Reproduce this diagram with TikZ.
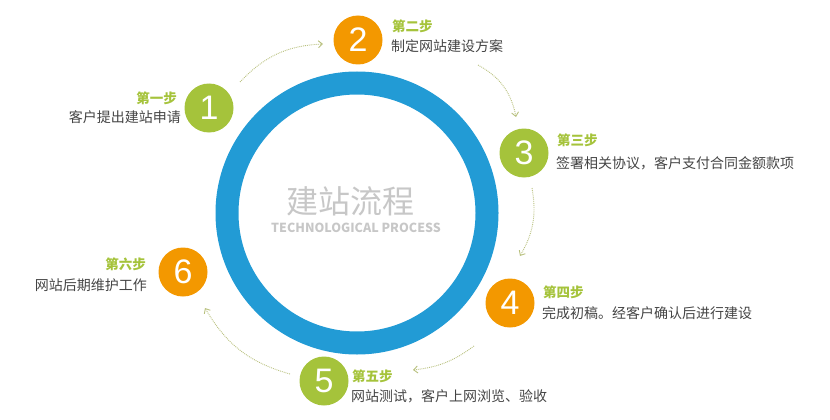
\documentclass[tikz,border=0pt]{standalone}
\usepackage{fontspec}
\setmainfont{Noto Sans CJK SC}
\newfontfamily\numfont{Liberation Sans}
\usetikzlibrary{arrows.meta}
\definecolor{ringblue}{HTML}{229BD5}
\definecolor{stepgreen}{HTML}{A5C33B}
\definecolor{steporange}{HTML}{F39800}
\definecolor{dotc}{HTML}{B8C07E}
\definecolor{txt}{HTML}{444444}
\begin{document}
\begin{tikzpicture}[x=1pt,y=-1pt,
  num/.style={circle,minimum size=49pt,inner sep=0pt,text=white,font=\numfont\fontsize{34}{34}\selectfont},
  ttl/.style={text=stepgreen,font=\bfseries\fontsize{13.5}{13.5}\selectfont,inner sep=0pt},
  dsc/.style={text=txt,font=\fontsize{14}{14}\selectfont,inner sep=0pt},
  flow/.style={dotc,densely dotted,line width=0.9pt,-{Straight Barb[length=4pt,width=7pt]}}]
\useasboundingbox (0,0) rectangle (830,420);
\draw[ringblue,line width=23pt] (357,213) circle[radius=130];
\node[text=black!22,font=\fontsize{32}{32}\selectfont] (t1) at (350,201) {建站流程};
\node[text=black!22,font=\bfseries\fontsize{12.5}{12.5}\selectfont] (t2) at (356,228) {TECHNOLOGICAL PROCESS};
\node[num,fill=stepgreen] (n1) at (209,108) {1};
\node[num,fill=steporange] (n2) at (358,40) {2};
\node[num,fill=stepgreen] (n3) at (524,153) {3};
\node[num,fill=steporange] (n4) at (510,303) {4};
\node[num,fill=stepgreen] (n5) at (324,381) {5};
\node[num,fill=steporange] (n6) at (183,272) {6};
\node[ttl,anchor=east] (a1) at (177,98) {第一步};
\node[dsc,anchor=east] (b1) at (181,117) {客户提出建站申请};
\node[ttl,anchor=west] (a2) at (392,26) {第二步};
\node[dsc,anchor=west] (b2) at (391,46) {制定网站建设方案};
\node[ttl,anchor=west] (a3) at (557,140) {第三步};
\node[dsc,anchor=west] (b3) at (556,163) {签署相关协议，客户支付合同金额款项};
\node[ttl,anchor=west] (a4) at (543,292) {第四步};
\node[dsc,anchor=west] (b4) at (542,313) {完成初稿。经客户确认后进行建设};
\node[ttl,anchor=west] (a5) at (352,376) {第五步};
\node[dsc,anchor=west] (b5) at (351,396) {网站测试，客户上网浏览、验收};
\node[ttl,anchor=east] (a6) at (146,264) {第六步};
\node[dsc,anchor=east] (b6) at (147,285) {网站后期维护工作};
\coordinate (s1) at (240,82); \coordinate (e1) at (323,44);
\coordinate (s2) at (478,65); \coordinate (e2) at (516,117);
\coordinate (s3) at (532,188); \coordinate (e3) at (520,256);
\coordinate (s4) at (474,346); \coordinate (e4) at (413,370);
\coordinate (s5) at (290,374); \coordinate (e5) at (205,308);
\draw[flow] (s1) to[bend left=22] (e1);
\draw[flow] (s2) to[bend left=25] (e2);
\draw[flow] (s3) to[bend left=20] (e3);
\draw[flow] (s4) to[bend left=15] (e4);
\draw[flow] (s5) to[bend left=22] (e5);
\end{tikzpicture}
\end{document}
